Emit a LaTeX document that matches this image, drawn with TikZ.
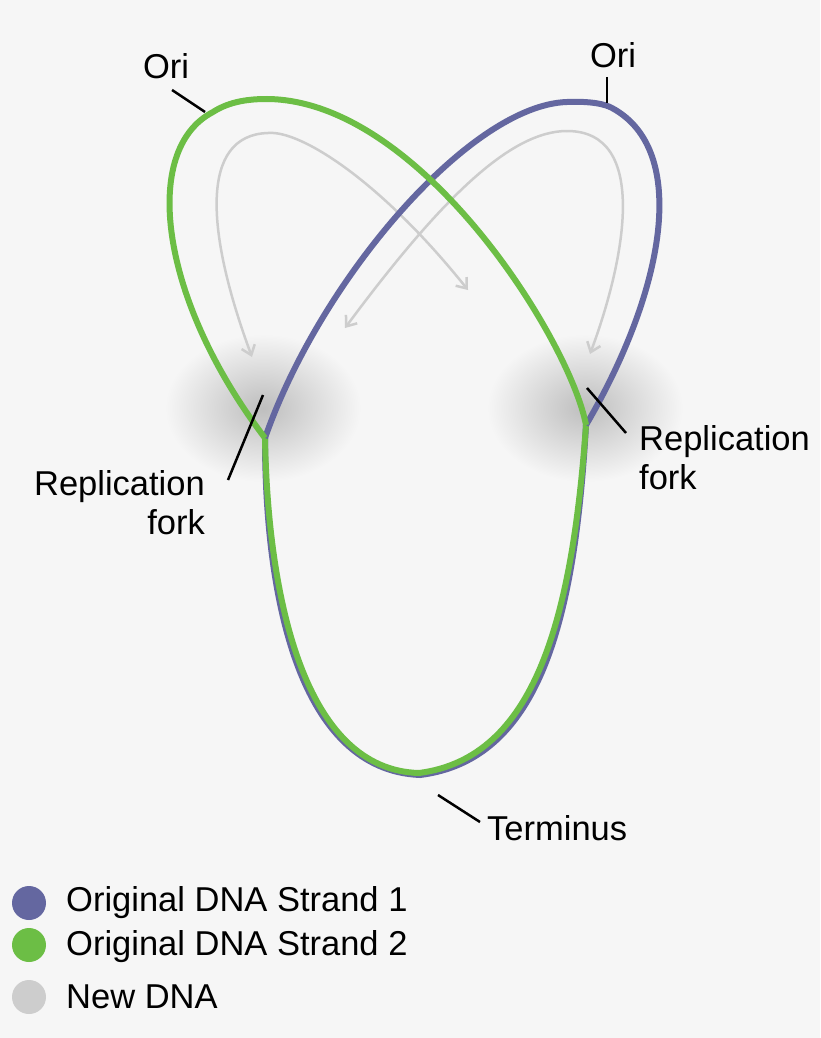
\documentclass[tikz,border=0pt]{standalone}
\usepackage{fontspec}
\setmainfont{Liberation Sans}
\usetikzlibrary{arrows.meta}
\definecolor{bg}{RGB}{246,246,246}
\definecolor{grnc}{RGB}{108,190,69}
\definecolor{purc}{RGB}{100,103,160}
\definecolor{gryc}{RGB}{205,205,205}
\definecolor{blob}{RGB}{190,190,190}
\begin{document}
\begin{tikzpicture}[x=1pt,y=-1pt,
  grn/.style={draw=grnc,line width=6pt},
  pur/.style={draw=purc,line width=6pt},
  gry/.style={draw=gryc,line width=2.5pt,-{Straight Barb[length=9pt,width=14pt]}},
  tick/.style={draw=black,line width=2.5pt},
  lab/.style={font=\fontsize{34.5}{39}\selectfont,align=left,inner sep=0pt}]
\fill[bg] (0,0) rectangle (820,1038);
\useasboundingbox (0,0) rectangle (820,1038);
% fork blobs
\foreach \cx in {263,585}{
 \shade[inner color=blob,outer color=bg] (\cx,408) ellipse [x radius=98,y radius=74];
}
\coordinate (fL) at (265,438);
\coordinate (fR) at (586,425);
\coordinate (term) at (420,775);
\coordinate (gtL) at (268,133);
\coordinate (gtR) at (567,131);
% new DNA arrows
\draw[gry] (gtL) .. controls (300,130) and (380,180) .. (468,290);
\draw[gry] (gtL) .. controls (200,135) and (205,230) .. (252,357);
\draw[gry] (gtR) .. controls (510,131) and (440,200) .. (345,328);
\draw[gry] (gtR) .. controls (650,131) and (625,260) .. (590,354);
% lower loop
\draw[pur] (fL) .. controls (265,600) and (300,770) .. (term) .. controls (540,760) and (575,620) .. (fR);
\draw[grn] (fL) .. controls (268,600) and (305,770) .. (419,773) .. controls (535,758) and (572,620) .. (fR);
% upper strands
\draw[pur] (fL) .. controls (320,280) and (470,105) .. (567,102) .. controls (590,101) and (605,104) .. (612,108)
  .. controls (690,150) and (665,290) .. (fR);
\draw[grn] (fL) .. controls (160,300) and (140,150) .. (213,112) .. controls (230,101) and (250,99) .. (267,99)
  .. controls (420,100) and (570,340) .. (fR);
% ticks and labels
\node[lab] (ori1) at (166,66) {Ori};
\node[lab] (ori2) at (613,55) {Ori};
\node[lab,anchor=east,align=right] (rfL) at (205,503) {Replication\\fork};
\node[lab,anchor=west] (rfR) at (639,458) {Replication\\fork};
\node[lab,anchor=west] (tl) at (487,828) {Terminus};
\coordinate (o1a) at (172,90); \coordinate (o1b) at (205,112);
\coordinate (o2a) at (607,77); \coordinate (o2b) at (607,103);
\coordinate (rLa) at (263,395); \coordinate (rLb) at (228,480);
\coordinate (rRa) at (587,388); \coordinate (rRb) at (626,433);
\coordinate (tA) at (438,795); \coordinate (tB) at (480,822);
\draw[tick] (o1a) -- (o1b);
\draw[tick] (o2a) -- (o2b);
\draw[tick] (rLa) -- (rLb);
\draw[tick] (rRa) -- (rRb);
\draw[tick] (tA) -- (tB);
% legend
\fill[purc] (29,903) circle (17);
\fill[grnc] (29,945) circle (17);
\fill[gryc] (29,997) circle (17);
\node[lab,anchor=west] (l1) at (66,903) {Original DNA Strand 1};
\node[lab,anchor=west] (l2) at (66,947) {Original DNA Strand 2};
\node[lab,anchor=west] (l3) at (66,997) {New DNA};
\end{tikzpicture}
\end{document}
